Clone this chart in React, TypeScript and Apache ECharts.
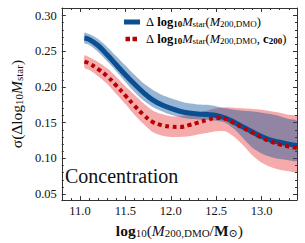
import React, { useEffect, useRef } from "react";
import * as echarts from "echarts";

const massGrid = [11.05, 11.1, 11.2, 11.3, 11.4, 11.5, 11.6, 11.7, 11.8, 11.9, 12.0, 12.1, 12.2, 12.3, 12.4, 12.5, 12.6, 12.7, 12.8, 12.9, 13.0, 13.1, 13.2, 13.3, 13.39];

const blueMid = [0.2685, 0.2665, 0.258, 0.245, 0.231, 0.217, 0.204, 0.192, 0.182, 0.175, 0.17, 0.166, 0.1635, 0.162, 0.1613, 0.16, 0.1565, 0.1505, 0.1435, 0.137, 0.1305, 0.1255, 0.1225, 0.12, 0.118];
const blueUpper = [0.276, 0.274, 0.267, 0.256, 0.243, 0.23, 0.217, 0.205, 0.196, 0.189, 0.184, 0.18, 0.177, 0.1755, 0.175, 0.173, 0.17, 0.168, 0.1665, 0.1655, 0.164, 0.162, 0.159, 0.155, 0.152];
const blueLower = [0.261, 0.259, 0.249, 0.236, 0.222, 0.207, 0.193, 0.181, 0.172, 0.166, 0.161, 0.158, 0.1555, 0.1545, 0.154, 0.1525, 0.15, 0.141, 0.128, 0.115, 0.107, 0.102, 0.099, 0.0975, 0.097];

const redMid = [0.2355, 0.233, 0.225, 0.215, 0.202, 0.188, 0.174, 0.161, 0.151, 0.1465, 0.1445, 0.144, 0.1465, 0.15, 0.1537, 0.1565, 0.1555, 0.149, 0.1425, 0.136, 0.129, 0.1235, 0.1195, 0.1165, 0.1145];
const redUpper = [0.244, 0.242, 0.235, 0.226, 0.214, 0.201, 0.189, 0.177, 0.167, 0.162, 0.159, 0.159, 0.161, 0.164, 0.167, 0.17, 0.1715, 0.171, 0.17, 0.169, 0.168, 0.166, 0.164, 0.161, 0.159];
const redLower = [0.227, 0.224, 0.215, 0.204, 0.19, 0.176, 0.161, 0.148, 0.137, 0.132, 0.13, 0.13, 0.131, 0.1335, 0.1355, 0.138, 0.138, 0.13, 0.118, 0.104, 0.094, 0.088, 0.084, 0.082, 0.081];

const xTicks = [11.0, 11.5, 12.0, 12.5, 13.0];
const yTicks = [0.05, 0.1, 0.15, 0.2, 0.25, 0.3];

const X_MIN = 10.8;
const X_MAX = 13.39;
const Y_MIN = 0.0416;
const Y_MAX = 0.3105;

const FONT = "'Liberation Serif', 'DejaVu Serif', serif";
const AXIS_COLOR = "#333";
const TEXT_COLOR = "#111";
const BLUE = "#0b4f93";
const RED = "#b80000";

function minorTicks(lo: number, hi: number, step: number, majors: number[]) {
  const out: number[] = [];
  const n = Math.round((hi - lo) / step);
  for (let i = 0; i <= n; i++) {
    const v = +(lo + i * step).toFixed(4);
    if (majors.some((m) => Math.abs(m - v) < 1e-6)) continue;
    out.push(v);
  }
  return out;
}

const rich = (size: number) => ({
  n: { fontSize: size, fontFamily: FONT, color: TEXT_COLOR, verticalAlign: "middle" as const },
  b: { fontSize: size, fontFamily: FONT, color: TEXT_COLOR, fontWeight: "bold" as const, verticalAlign: "middle" as const },
  i: { fontSize: size, fontFamily: FONT, color: TEXT_COLOR, fontStyle: "italic" as const, verticalAlign: "middle" as const },
  s: { fontSize: Math.round(size * 0.68), fontFamily: FONT, color: TEXT_COLOR, verticalAlign: "bottom" as const },
  sb: { fontSize: Math.round(size * 0.68), fontFamily: FONT, color: TEXT_COLOR, fontWeight: "bold" as const, verticalAlign: "bottom" as const },
});

function bandSeries(upper: number[], lower: number[], fill: string) {
  return {
    type: "custom",
    coordinateSystem: "cartesian2d",
    clip: true,
    silent: true,
    data: [[massGrid[0], upper[0]]],
    renderItem: (_params: any, api: any) => {
      const pts: number[][] = [];
      for (let i = 0; i < massGrid.length; i++) pts.push(api.coord([massGrid[i], upper[i]]));
      for (let i = massGrid.length - 1; i >= 0; i--) pts.push(api.coord([massGrid[i], lower[i]]));
      return {
        type: "polygon",
        shape: { points: pts, smooth: 0.25 },
        style: { fill, stroke: "none" },
      };
    },
  };
}

export default function App() {
  const ref = useRef<HTMLDivElement>(null);
  useEffect(() => {
    if (!ref.current) return;
    const chart = echarts.init(ref.current, undefined, { renderer: "svg" });
    const pair = (ys: number[]) => massGrid.map((x, i) => [x, ys[i]]);
    const xMinor = minorTicks(10.8, 13.3, 0.1, xTicks);
    const yMinor = minorTicks(0.05, 0.3, 0.01, yTicks);

    const xAxisBase = { type: "value" as const, min: X_MIN, max: X_MAX, splitLine: { show: false } };
    const yAxisBase = { type: "value" as const, min: Y_MIN, max: Y_MAX, splitLine: { show: false } };
    const line = { show: true, lineStyle: { color: AXIS_COLOR, width: 1 } };
    const tick = (vals: number[], len: number) => ({
      show: true, inside: true, length: len, customValues: vals, lineStyle: { color: AXIS_COLOR },
    });

    chart.setOption({
      animation: false,
      grid: { left: 50, top: 8, right: 8, bottom: 42, containLabel: false },
      xAxis: [
        {
          ...xAxisBase,
          position: "bottom",
          axisLine: line,
          axisTick: tick(xTicks, 4),
          axisLabel: {
            show: true, customValues: xTicks, margin: 4,
            formatter: (v: number) => v.toFixed(1),
            fontFamily: FONT, fontSize: 12.5, color: TEXT_COLOR,
          },
          name: "{b|log}{s|10}{n|(}{i|M}{s|200,DMO}{n|/}{b|M}{s|⊙}{n|)}",
          nameLocation: "middle",
          nameGap: 18,
          nameTextStyle: { rich: rich(15.5), fontSize: 15.5, fontFamily: FONT, color: TEXT_COLOR },
        },
        { ...xAxisBase, position: "bottom", axisLine: { show: false }, axisTick: tick(xMinor, 2), axisLabel: { show: false } },
        { ...xAxisBase, position: "top", axisLine: line, axisTick: tick(xTicks, 4), axisLabel: { show: false } },
        { ...xAxisBase, position: "top", axisLine: { show: false }, axisTick: tick(xMinor, 2), axisLabel: { show: false } },
      ],
      yAxis: [
        {
          ...yAxisBase,
          position: "left",
          axisLine: line,
          axisTick: tick(yTicks, 4),
          axisLabel: {
            show: true, customValues: yTicks, margin: 5,
            formatter: (v: number) => v.toFixed(2),
            fontFamily: FONT, fontSize: 12.5, color: TEXT_COLOR,
          },
          name: "{n|σ(Δ}{n|log}{s|10}{i|M}{s|star}{n|)}",
          nameLocation: "middle",
          nameRotate: 90,
          nameGap: 31,
          nameTextStyle: { rich: rich(15.5), fontSize: 15.5, fontFamily: FONT, color: TEXT_COLOR },
        },
        { ...yAxisBase, position: "left", axisLine: { show: false }, axisTick: tick(yMinor, 2), axisLabel: { show: false } },
        { ...yAxisBase, position: "right", axisLine: line, axisTick: tick(yTicks, 4), axisLabel: { show: false } },
        { ...yAxisBase, position: "right", axisLine: { show: false }, axisTick: tick(yMinor, 2), axisLabel: { show: false } },
      ],
      series: [
        bandSeries(redUpper, redLower, "rgba(225,0,0,0.33)"),
        bandSeries(blueUpper, blueLower, "rgba(9,79,153,0.42)"),
        {
          type: "line", name: "blue", data: pair(blueMid), symbol: "none", smooth: 0.4,
          lineStyle: { color: BLUE, width: 5, cap: "butt" },
        },
        {
          type: "line", name: "red", data: pair(redMid), symbol: "none", smooth: 0.4,
          lineStyle: { color: RED, width: 4, type: [4, 3.5], cap: "butt" },
        },
      ],
      graphic: [
        { type: "line", shape: { x1: 124, y1: 22, x2: 140, y2: 22 }, style: { stroke: BLUE, lineWidth: 5 } },
        { type: "line", shape: { x1: 125.5, y1: 39, x2: 139, y2: 39 }, style: { stroke: RED, lineWidth: 4.5, lineDash: [4.5, 2.5] } },
        {
          type: "text", x: 146, y: 22,
          style: {
            text: "{n|Δ }{b|log}{sb|10}{i|M}{s|star}{n|(}{i|M}{s|200,DMO}{n|)}",
            rich: rich(12.5), align: "left", verticalAlign: "middle",
          },
        },
        {
          type: "text", x: 146, y: 39,
          style: {
            text: "{n|Δ }{b|log}{sb|10}{i|M}{s|star}{n|(}{i|M}{s|200,DMO}{n|, }{b|c}{sb|200}{n|)}",
            rich: rich(12.5), align: "left", verticalAlign: "middle",
          },
        },
        {
          type: "text", x: 65, y: 176,
          style: {
            text: "Concentration", fontFamily: FONT, fontSize: 20, fill: TEXT_COLOR,
            align: "left", verticalAlign: "middle",
          },
        },
      ],
    });
    return () => chart.dispose();
  }, []);
  return (
    <div ref={ref} style={{ position: "fixed", left: 0, top: 0, width: 305, height: 243, background: "#fff" }} />
  );
}
